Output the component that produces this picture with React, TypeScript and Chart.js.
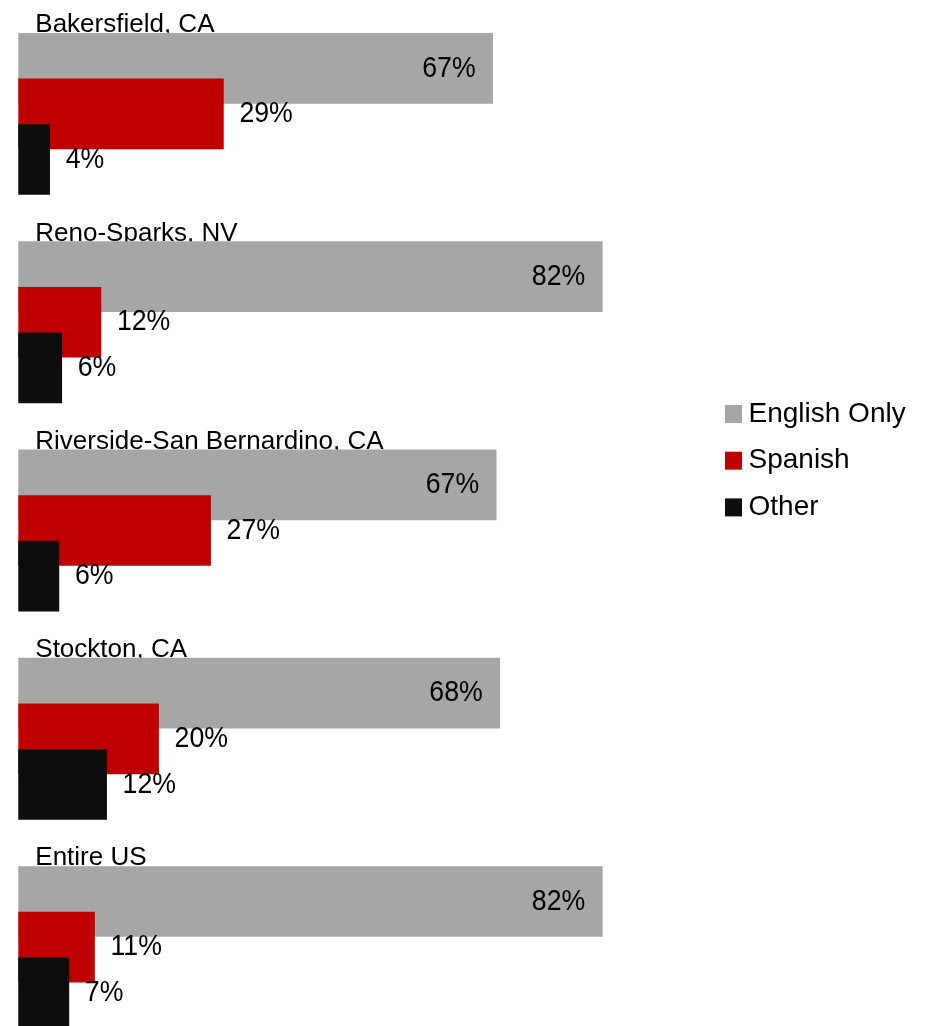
import React, { useEffect, useRef } from "react";
import { Chart, registerables } from "chart.js";

Chart.register(...registerables);

// ---- data ----
const categories = [
  "Bakersfield, CA",
  "Reno-Sparks, NV",
  "Riverside-San Bernardino, CA",
  "Stockton, CA",
  "Entire US",
];
const seriesNames = ["English Only", "Spanish", "Other"];
const englishOnly = [66.6, 82.0, 67.1, 67.6, 82.0];
const spanish = [28.8, 11.6, 27.0, 19.7, 10.7];
const other = [4.4, 6.1, 5.7, 12.4, 7.1];

// ---- styles / layout ----
const seriesColors = ["#A6A6A6", "#C00000", "#0D0D0D"];
const SERIES_STEP = 0.219; // offset of each series inside a group, in group units
const FONT = '"Liberation Sans", Arial, Helvetica, sans-serif';
const VALUE_SQUEEZE = 0.89; // horizontal compression of value labels

const labelPlugin = {
  id: "customLabels",
  beforeDatasetsDraw(chart: any) {
    const ctx = chart.ctx;
    const meta = chart.getDatasetMeta(0);
    ctx.save();
    ctx.font = `26px ${FONT}`;
    ctx.fillStyle = "#000000";
    ctx.textAlign = "left";
    ctx.textBaseline = "alphabetic";
    meta.data.forEach((bar: any, i: number) => {
      const { y, height } = bar.getProps(["y", "height"], true);
      ctx.fillText(categories[i], chart.chartArea.left + 17, y - height / 2 - 1);
    });
    ctx.restore();
  },
  afterDatasetsDraw(chart: any) {
    const ctx = chart.ctx;
    chart.data.datasets.forEach((ds: any, di: number) => {
      const meta = chart.getDatasetMeta(di);
      meta.data.forEach((bar: any, i: number) => {
        const { x, y } = bar.getProps(["x", "y"], true);
        const text = Math.round(ds.data[i].x) + "%";
        const tx = di === 0 ? x - 17 : x + 16;
        ctx.save();
        ctx.font = `30px ${FONT}`;
        ctx.fillStyle = "#000000";
        ctx.textBaseline = "middle";
        ctx.textAlign = di === 0 ? "right" : "left";
        ctx.translate(tx, y);
        ctx.scale(VALUE_SQUEEZE, 1);
        ctx.fillText(text, 0, 0);
        ctx.restore();
      });
    });
  },
  afterDraw(chart: any) {
    // legend
    const ctx = chart.ctx;
    ctx.save();
    ctx.font = `28px ${FONT}`;
    ctx.textAlign = "left";
    ctx.textBaseline = "middle";
    const boxX = 725;
    const top0 = 405;
    const step = 46.7;
    chart.data.datasets.forEach((ds: any, di: number) => {
      const top = top0 + di * step;
      ctx.fillStyle = ds.backgroundColor;
      ctx.fillRect(boxX, top, 17, 18);
      ctx.fillStyle = "#000000";
      ctx.fillText(ds.label, boxX + 23.5, top + 9);
    });
    ctx.restore();
  },
};

export default function App() {
  const canvasRef = useRef<HTMLCanvasElement | null>(null);

  useEffect(() => {
    if (!canvasRef.current) return;
    const seriesValues = [englishOnly, spanish, other];
    const datasets = seriesNames.map((name, j) => ({
      label: name,
      data: categories.map((_, i) => ({ x: seriesValues[j][i], y: i + j * SERIES_STEP })),
      backgroundColor: seriesColors[j],
      borderWidth: 0,
      order: 3 - j,
      grouped: false,
      barThickness: 70,
    }));

    const chart = new Chart(canvasRef.current, {
      type: "bar",
      data: { datasets } as any,
      options: {
        indexAxis: "y",
        animation: false,
        responsive: true,
        maintainAspectRatio: false,
        layout: { padding: { left: 18.3, right: 196.5, top: 0, bottom: 0 } },
        scales: {
          x: { type: "linear", min: 0, max: 100, display: false, offset: false, grace: 0 },
          y: {
            type: "linear",
            min: -0.3279,
            max: 4.5977,
            reverse: true,
            display: false,
            offset: false,
            grace: 0,
          },
        },
        plugins: {
          legend: { display: false },
          tooltip: { enabled: false },
        },
      } as any,
      plugins: [labelPlugin],
    });
    return () => chart.destroy();
  }, []);

  return (
    <div style={{ position: "absolute", left: 0, top: 0, width: 927, height: 1026, background: "#ffffff" }}>
      <canvas ref={canvasRef} />
    </div>
  );
}
